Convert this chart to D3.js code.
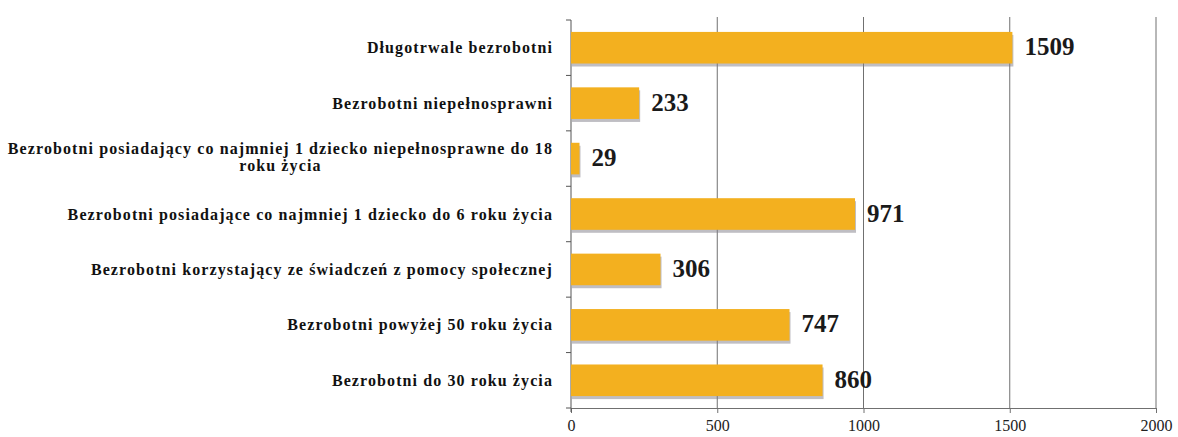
<!DOCTYPE html>
<html><head><meta charset="utf-8">
<script src="https://cdn.jsdelivr.net/npm/d3@7"></script>
<style>
html,body{margin:0;padding:0;background:#fff;}
svg{display:block;}
</style></head>
<body>
<svg id="chart" width="1178" height="437"></svg>
<script>
const categories = [
  ["Długotrwale bezrobotni"],
  ["Bezrobotni niepełnosprawni"],
  ["Bezrobotni posiadający co najmniej 1 dziecko niepełnosprawne do 18", "roku życia"],
  ["Bezrobotni posiadające co najmniej 1 dziecko do 6 roku życia"],
  ["Bezrobotni korzystający ze świadczeń z pomocy społecznej"],
  ["Bezrobotni powyżej 50 roku życia"],
  ["Bezrobotni do 30 roku życia"]
];
const values = [1509, 233, 29, 971, 306, 747, 860];
const xTicks = [0, 500, 1000, 1500, 2000];

(function() {
const svg = d3.select("#chart");
const mLeft = 571, mRight = 1156, mTop = 20, mBottom = 408;

const x = d3.scaleLinear().domain([0, 2000]).range([mLeft, mRight]);
const y = d3.scaleBand().domain(d3.range(categories.length)).range([mTop, mBottom]).paddingInner(0.43).paddingOuter(0.215);

// gridlines
svg.append("g").selectAll("line").data(xTicks.slice(1)).join("line")
  .attr("x1", d => x(d)).attr("x2", d => x(d))
  .attr("y1", mTop - 3).attr("y2", mBottom)
  .attr("stroke", "#707070").attr("stroke-width", 1);

// bottom axis
const xAxis = d3.axisBottom(x).tickValues(xTicks).tickSize(5).tickPadding(2).tickFormat(d3.format("d"));
const gx = svg.append("g").attr("transform", `translate(0,${mBottom})`).call(xAxis);
gx.select(".domain").attr("stroke", "#707070");
gx.selectAll(".tick line").attr("stroke", "#707070");
gx.selectAll(".tick text").attr("font-family", "Liberation Serif, serif")
  .attr("font-size", 16).attr("fill", "#222").attr("dy", "1.0em");

// left axis line with band-boundary ticks
const ga = svg.append("g");
ga.append("line").attr("x1", mLeft).attr("x2", mLeft).attr("y1", mTop).attr("y2", mBottom + 4)
  .attr("stroke", "#555");
const gap = (y.step() - y.bandwidth()) / 2;
const tickYs = d3.range(categories.length + 1).map(i => i === 0 ? mTop : (i === categories.length ? mBottom : y(i) - gap));
ga.selectAll("line.t").data(tickYs).join("line").attr("class", "t")
  .attr("x1", mLeft - 5).attr("x2", mLeft)
  .attr("y1", d => d).attr("y2", d => d)
  .attr("stroke", "#555");

// bar shadows
svg.append("g").selectAll("rect").data(values).join("rect")
  .attr("x", x(0) + 1).attr("y", (d, i) => y(i) + 3)
  .attr("width", d => x(d) - x(0)).attr("height", y.bandwidth())
  .attr("fill", "#7f7d88").attr("opacity", 0.5);

// bars
svg.append("g").selectAll("rect").data(values).join("rect")
  .attr("x", x(0)).attr("y", (d, i) => y(i))
  .attr("width", d => x(d) - x(0)).attr("height", y.bandwidth())
  .attr("fill", "#F3B01F");

// value labels
svg.append("g").selectAll("text").data(values).join("text")
  .attr("x", d => x(d) + 12).attr("y", (d, i) => y(i) + y.bandwidth() / 2)
  .attr("dy", "0.3em")
  .attr("font-family", "Liberation Serif, serif").attr("font-weight", "bold")
  .attr("font-size", 25).attr("fill", "#1a1a1a")
  .text(d => d);

// category labels
const labelRight = 553;
const lg = svg.append("g");
categories.forEach((lines, i) => {
  const cy = y(i) + y.bandwidth() / 2;
  const t = lg.append("text")
    .attr("font-family", "Liberation Serif, serif").attr("font-weight", "bold")
    .attr("font-size", 16).attr("fill", "#111").attr("letter-spacing", "1.1px");
  const n = lines.length;
  const lh = 17;
  lines.forEach((ln, j) => {
    t.append("tspan").attr("y", cy + (j - (n - 1) / 2) * lh - (n > 1 ? 2 : 0)).attr("dy", "0.35em").text(ln);
  });
  const widths = [];
  t.selectAll("tspan").each(function() { widths.push(this.getComputedTextLength()); });
  const maxW = d3.max(widths);
  t.attr("text-anchor", "middle");
  t.selectAll("tspan").attr("x", labelRight - maxW / 2);
});
})();
</script>
</body></html>
